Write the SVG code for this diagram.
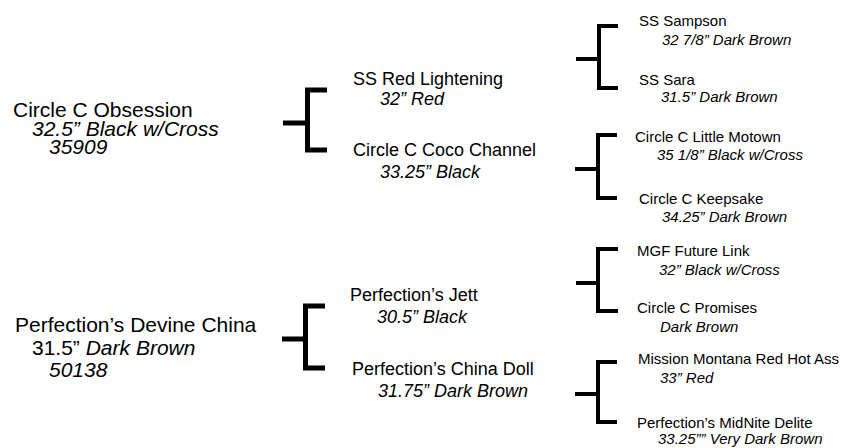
<svg xmlns="http://www.w3.org/2000/svg" width="855" height="448" viewBox="0 0 855 448">
<style>
text{font-family:"Liberation Sans",Arial,sans-serif;fill:#000}
.l1{font-size:21px}
.l2{font-size:18px}
.l3{font-size:15px}
.i{font-style:italic}
.br{fill:none;stroke:#000;stroke-width:5;stroke-linecap:butt;stroke-linejoin:miter}
.br3{fill:none;stroke:#000;stroke-width:4;stroke-linejoin:miter}
</style>
<rect width="855" height="448" fill="#fff"/>
<g id="connectors">
<path class="br" d="M283,123 H307.5 M327,90 H307.5 V150 H327"/>
<path class="br" d="M282,339 H305.5 M325,306 H305.5 V368 H325"/>
<path class="br3" d="M576,59 H599 M618,26 H599 V88 H618"/>
<path class="br3" d="M575,169 H598 M617,135 H598 V198 H617"/>
<path class="br3" d="M576,283 H598 M618,249 H598 V311 H618"/>
<path class="br3" d="M575,394 H598 M617,362 H598 V422 H617"/>
</g>
<g id="obsession">
<text class="l1" x="13" y="117">Circle C Obsession</text>
<text class="l1 i" x="32" y="136">32.5” Black w/Cross</text>
<text class="l1 i" x="49" y="154">35909</text>
</g>
<g id="devine-china">
<text class="l1" x="15" y="332">Perfection’s Devine China</text>
<text class="l1" x="32" y="355">31.5” <tspan class="i">Dark Brown</tspan></text>
<text class="l1 i" x="49" y="377">50138</text>
</g>
<g id="red-lightening">
<text class="l2" x="353" y="85">SS Red Lightening</text>
<text class="l2 i" x="380" y="105">32” Red</text>
</g>
<g id="coco-channel">
<text class="l2" x="353" y="156">Circle C Coco Channel</text>
<text class="l2 i" x="380" y="178">33.25” Black</text>
</g>
<g id="jett">
<text class="l2" x="350" y="301">Perfection’s Jett</text>
<text class="l2 i" x="377" y="323">30.5” Black</text>
</g>
<g id="china-doll">
<text class="l2" x="352" y="375">Perfection’s China Doll</text>
<text class="l2 i" x="378" y="397">31.75” Dark Brown</text>
</g>
<g id="sampson">
<text class="l3" x="639" y="26">SS Sampson</text>
<text class="l3 i" x="662" y="45">32 7/8” Dark Brown</text>
</g>
<g id="sara">
<text class="l3" x="639" y="85">SS Sara</text>
<text class="l3 i" x="661" y="102">31.5” Dark Brown</text>
</g>
<g id="little-motown">
<text class="l3" x="635" y="142">Circle C Little Motown</text>
<text class="l3 i" x="657" y="160">35 1/8” Black w/Cross</text>
</g>
<g id="keepsake">
<text class="l3" x="639" y="204">Circle C Keepsake</text>
<text class="l3 i" x="662" y="222">34.25” Dark Brown</text>
</g>
<g id="future-link">
<text class="l3" x="637" y="256">MGF Future Link</text>
<text class="l3 i" x="659" y="275">32” Black w/Cross</text>
</g>
<g id="promises">
<text class="l3" x="637" y="313">Circle C Promises</text>
<text class="l3 i" x="660" y="332">Dark Brown</text>
</g>
<g id="red-hot-ass">
<text class="l3" x="638" y="364">Mission Montana Red Hot Ass</text>
<text class="l3 i" x="660" y="383">33” Red</text>
</g>
<g id="midnite-delite">
<text class="l3" x="637" y="428">Perfection’s MidNite Delite</text>
<text class="l3 i" x="658" y="444">33.25”” Very Dark Brown</text>
</g>
</svg>
